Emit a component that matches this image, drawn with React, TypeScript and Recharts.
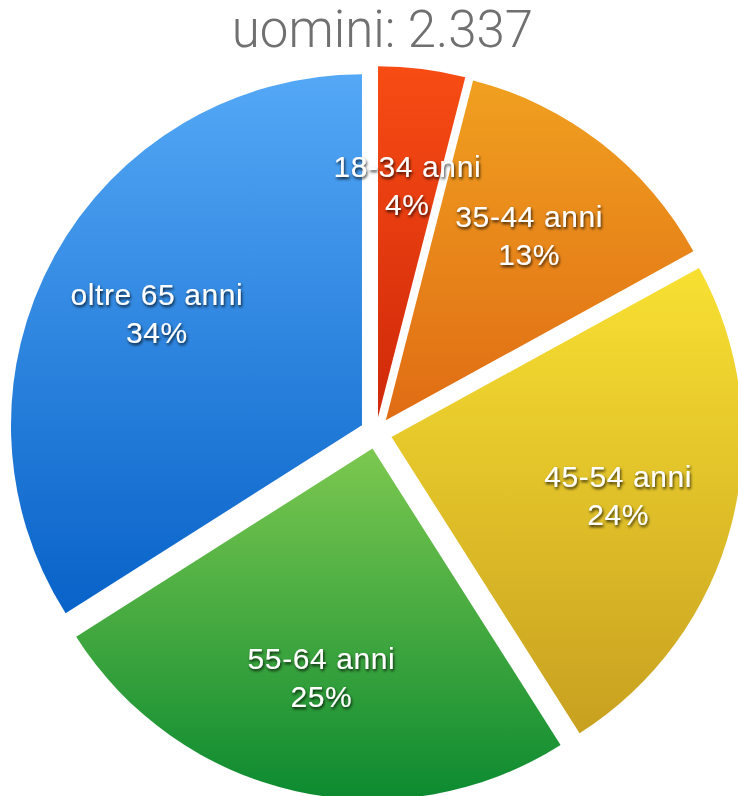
import React from "react";
import { PieChart, Pie, Sector } from "recharts";

const categories = ["18-34 anni", "35-44 anni", "45-54 anni", "55-64 anni", "oltre 65 anni"];
const values = [4, 13, 24, 25, 34];
const topColors = ["#f84c14", "#f0a020", "#f8e032", "#7cc850", "#54a8f6"];
const bottomColors = ["#d0280a", "#e06c14", "#c8a020", "#0c8a30", "#0862c8"];
const titleText = "uomini: 2.337";

const data = categories.map((name, i) => ({ name, value: values[i] }));

const RAD = Math.PI / 180;
const EXPLODE = 16;
const LABEL_R = 250;

const renderSlice = (props: any) => {
  const { cx, cy, midAngle, outerRadius, startAngle, endAngle, index } = props;
  const dx = EXPLODE * Math.cos(-midAngle * RAD);
  const dy = EXPLODE * Math.sin(-midAngle * RAD);
  const id = `grad-${index}`;
  return (
    <g key={`s-${index}`}>
      <defs>
        <linearGradient id={id} x1="0" y1="0" x2="0" y2="1">
          <stop offset="0%" stopColor={topColors[index]} />
          <stop offset="100%" stopColor={bottomColors[index]} />
        </linearGradient>
      </defs>
      <Sector
        cx={cx + dx}
        cy={cy + dy}
        innerRadius={0}
        outerRadius={outerRadius}
        startAngle={startAngle}
        endAngle={endAngle}
        fill={`url(#${id})`}
        stroke="none"
      />
    </g>
  );
};

const renderText = (props: any) => {
  const { cx, cy, midAngle, index } = props;
  const px = cx + LABEL_R * Math.cos(-midAngle * RAD);
  const py = cy + LABEL_R * Math.sin(-midAngle * RAD);
  return (
    <g key={`t-${index}`} filter="url(#txtShadow)">
      <text
        x={px}
        y={py - 8}
        textAnchor="middle"
        fill="#ffffff"
        fontSize={30}
        letterSpacing={0.6}
        fontFamily="'Liberation Sans', Arial, sans-serif"
      >
        {categories[index]}
      </text>
      <text
        x={px}
        y={py + 30}
        textAnchor="middle"
        fill="#ffffff"
        fontSize={30}
        letterSpacing={0.6}
        fontFamily="'Liberation Sans', Arial, sans-serif"
      >
        {`${values[index]}%`}
      </text>
    </g>
  );
};

export default function App() {
  return (
    <div style={{ position: "absolute", left: 0, top: 0, width: 738, height: 796, background: "#fff", overflow: "hidden" }}>
      <svg width={0} height={0} style={{ position: "absolute" }}>
        <defs>
          <filter id="txtShadow" x="-20%" y="-20%" width="140%" height="160%">
            <feDropShadow dx={1} dy={2} stdDeviation={1.5} floodColor="#000" floodOpacity={0.8} />
          </filter>
        </defs>
      </svg>
      <div
        style={{
          position: "absolute",
          left: 0,
          top: 4,
          width: 765,
          textAlign: "center",
          fontFamily: "Roboto, 'Open Sans', sans-serif",
          fontWeight: 300,
          fontSize: 51,
          color: "#707070",
          lineHeight: "52px",
        }}
      >
        {titleText}
      </div>
      <PieChart width={738} height={796} margin={{ top: 0, right: 0, bottom: 0, left: 0 }}>
        <Pie
          data={data}
          dataKey="value"
          nameKey="name"
          cx={376}
          cy={433}
          innerRadius={0}
          outerRadius={351}
          startAngle={90}
          endAngle={-270}
          fill="transparent"
          stroke="none"
          label={renderSlice}
          labelLine={false}
          isAnimationActive={false}
        />
        <Pie
          data={data}
          dataKey="value"
          nameKey="name"
          cx={376}
          cy={433}
          innerRadius={0}
          outerRadius={351}
          startAngle={90}
          endAngle={-270}
          fill="transparent"
          stroke="none"
          label={renderText}
          labelLine={false}
          isAnimationActive={false}
        />
      </PieChart>
    </div>
  );
}
